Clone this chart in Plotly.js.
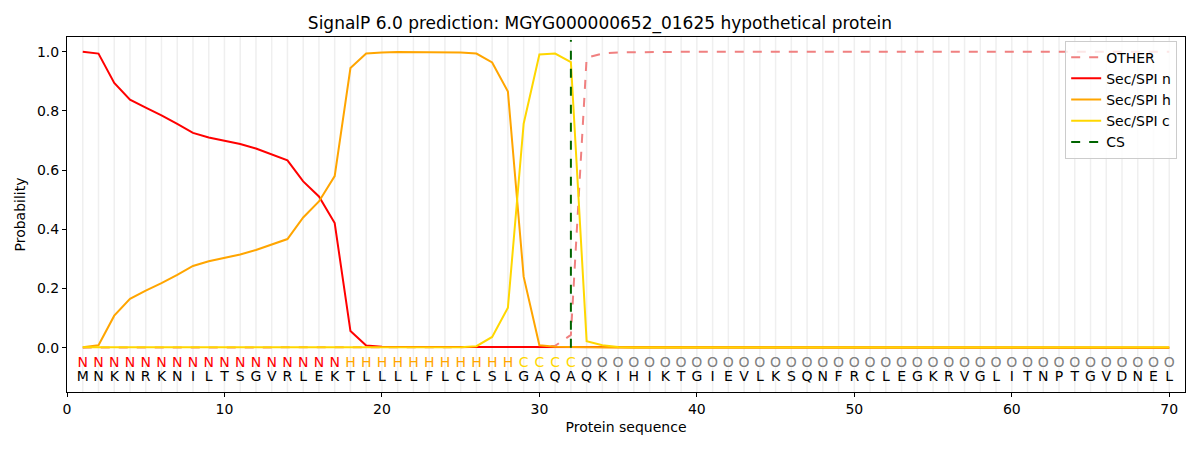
<!DOCTYPE html>
<html>
<head>
<meta charset="utf-8">
<script src="https://cdn.plot.ly/plotly-3.0.1.min.js"></script>
<style>html,body{margin:0;padding:0;background:#fff;}#chart{width:1200px;height:450px;}</style>
</head>
<body>
<div id="chart"></div>
<script>
const sequence = ["M","N","K","N","R","K","N","I","L","T","S","G","V","R","L","E","K","T","L","L","L","L","F","L","C","L","S","L","G","A","Q","A","Q","K","I","H","I","K","T","G","I","E","V","L","K","S","Q","N","F","R","C","L","E","G","K","R","V","G","L","I","T","N","P","T","G","V","D","N","E","L"];
const regionLabels = ["N","N","N","N","N","N","N","N","N","N","N","N","N","N","N","N","N","H","H","H","H","H","H","H","H","H","H","H","C","C","C","C","O","O","O","O","O","O","O","O","O","O","O","O","O","O","O","O","O","O","O","O","O","O","O","O","O","O","O","O","O","O","O","O","O","O","O","O","O","O"];
const positions = [1,2,3,4,5,6,7,8,9,10,11,12,13,14,15,16,17,18,19,20,21,22,23,24,25,26,27,28,29,30,31,32,33,34,35,36,37,38,39,40,41,42,43,44,45,46,47,48,49,50,51,52,53,54,55,56,57,58,59,60,61,62,63,64,65,66,67,68,69,70];
const otherProb = [0,0,0,0,0,0,0,0,0,0,0,0,0,0,0,0,0,0,0,0,0,0,0,0,0,0,0,0,0.001,0.002,0.006,0.043,0.980,0.994,0.998,0.999,1,1,1,1,1,1,1,1,1,1,1,1,1,1,1,1,1,1,1,1,1,1,1,1,1,1,1,1,1,1,1,1,1,1];
const secN = [1.0,0.994,0.895,0.838,0.811,0.785,0.756,0.726,0.710,0.699,0.688,0.673,0.654,0.633,0.562,0.511,0.421,0.056,0.007,0.003,0.002,0.002,0.002,0.002,0.002,0.002,0.002,0.002,0.002,0.001,0.001,0,0,0,0,0,0,0,0,0,0,0,0,0,0,0,0,0,0,0,0,0,0,0,0,0,0,0,0,0,0,0,0,0,0,0,0,0,0,0];
const secH = [0.001,0.008,0.108,0.165,0.193,0.218,0.246,0.276,0.292,0.303,0.315,0.330,0.348,0.367,0.440,0.494,0.580,0.945,0.994,0.998,0.999,0.999,0.999,0.999,0.998,0.994,0.964,0.866,0.240,0.008,0.003,0.002,0.001,0,0,0,0,0,0,0,0,0,0,0,0,0,0,0,0,0,0,0,0,0,0,0,0,0,0,0,0,0,0,0,0,0,0,0,0,0];
const secC = [0.001,0.001,0.001,0.001,0.001,0.001,0.001,0.001,0.001,0.001,0.001,0.001,0.001,0.001,0.001,0.001,0.001,0.001,0.001,0.001,0.001,0.001,0.001,0.001,0.001,0.005,0.036,0.135,0.757,0.991,0.994,0.965,0.022,0.008,0.002,0.001,0.001,0.001,0.001,0.001,0.001,0.001,0.001,0.001,0.001,0.001,0.001,0.001,0.001,0.001,0.001,0.001,0.001,0.001,0.001,0.001,0.001,0.001,0.001,0.001,0.001,0.001,0.001,0.001,0.001,0.001,0.001,0.001,0.001,0.001];
const csPos = 32;
const csRange = [0, 1.04];
const xTicks = [0,10,20,30,40,50,60,70];
const yTicks = [0,0.2,0.4,0.6,0.8,1.0];
const labelColorMap = {N:"red", H:"orange", C:"gold", O:"grey"};

const FONT = "DejaVu Sans, sans-serif";

const traces = [
  {x: positions, y: otherProb, name: "OTHER", mode: "lines", line: {color: "lightcoral", width: 2, dash: "dash"}},
  {x: positions, y: secN, name: "Sec/SPI n", mode: "lines", line: {color: "red", width: 2}},
  {x: positions, y: secH, name: "Sec/SPI h", mode: "lines", line: {color: "orange", width: 2}},
  {x: positions, y: secC, name: "Sec/SPI c", mode: "lines", line: {color: "gold", width: 2}},
  {x: [csPos, csPos], y: csRange, name: "CS", mode: "lines", line: {color: "darkgreen", width: 2, dash: "dash"}},
  {x: positions, y: positions.map(() => -0.053), mode: "text", text: regionLabels, showlegend: false, hoverinfo: "skip",
   textfont: {family: FONT, size: 14, color: regionLabels.map(l => labelColorMap[l])}},
  {x: positions, y: positions.map(() => -0.1), mode: "text", text: sequence, showlegend: false, hoverinfo: "skip",
   textfont: {family: FONT, size: 14, color: "black"}}
];

const shapes = positions.map(p => ({type: "line", xref: "x", yref: "paper", x0: p, x1: p, y0: 0, y1: 1,
  line: {color: "#efefef", width: 1.5}, layer: "below"}));

const layout = {
  width: 1200, height: 450,
  margin: {l: 67, r: 15, t: 37, b: 58},
  paper_bgcolor: "white", plot_bgcolor: "white",
  font: {family: FONT, size: 14, color: "black"},
  title: {text: "SignalP 6.0 prediction: MGYG000000652_01625 hypothetical protein", font: {family: FONT, size: 17}, x: 0.5, xanchor: "center", y: 0.948, yanchor: "middle"},
  xaxis: {range: [0, 71], tickvals: xTicks, ticktext: xTicks.map(String), showgrid: false, zeroline: false,
    showline: true, linecolor: "black", linewidth: 1, mirror: true, ticks: "outside", ticklen: 4, tickcolor: "black",
    tickfont: {size: 14}, title: {text: "Protein sequence", font: {size: 14}, standoff: 6}},
  yaxis: {range: [-0.15, 1.05], tickvals: yTicks, ticktext: yTicks.map(v => v.toFixed(1)), showgrid: false, zeroline: false,
    showline: true, linecolor: "black", linewidth: 1, mirror: true, ticks: "outside", ticklen: 4, tickcolor: "black",
    tickfont: {size: 14}, title: {text: "Probability", font: {size: 14}, standoff: 8}},
  legend: {x: 0.993, xanchor: "right", y: 0.99, yanchor: "top", bgcolor: "rgba(255,255,255,0.8)", bordercolor: "#cccccc", borderwidth: 1,
    font: {size: 14}, tracegroupgap: 0},
  shapes: shapes,
  showlegend: true
};

Plotly.newPlot("chart", traces, layout, {displayModeBar: false, staticPlot: true});
</script>
</body>
</html>
